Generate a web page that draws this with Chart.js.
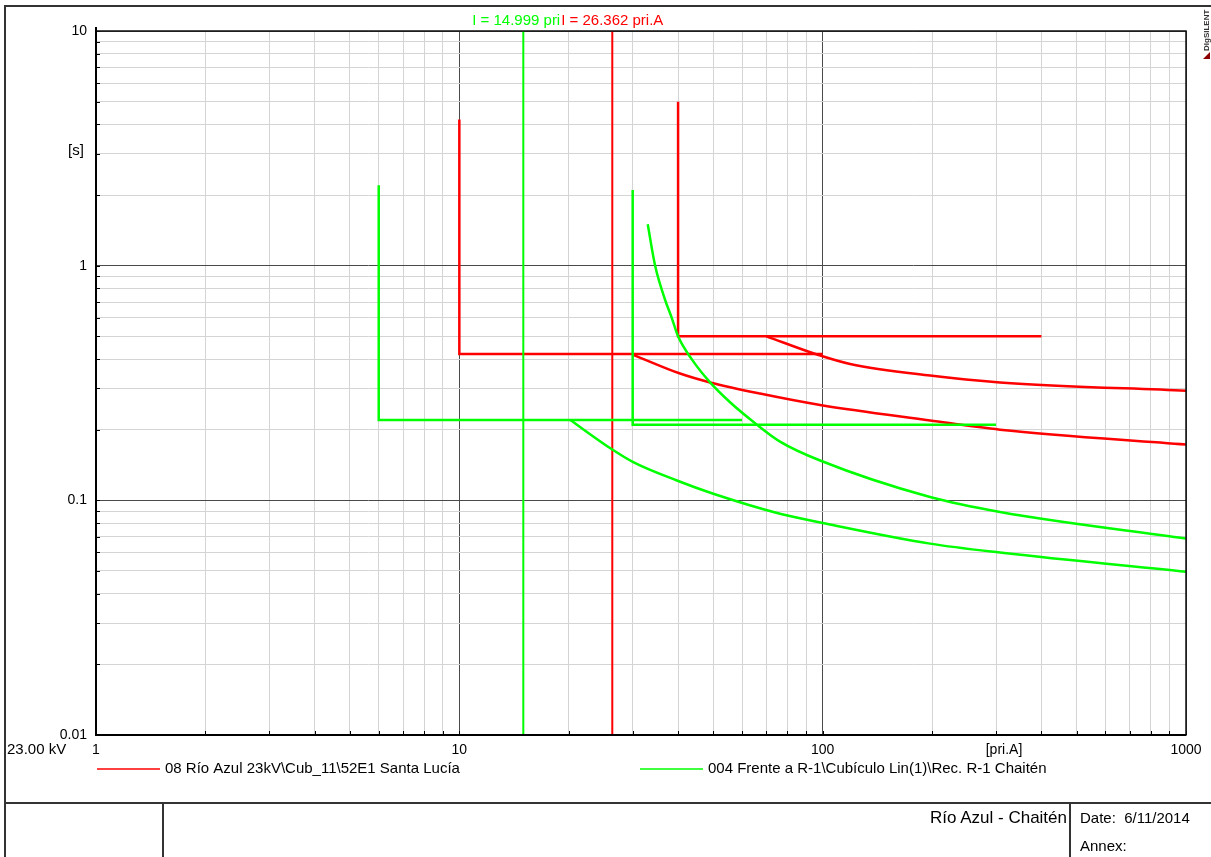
<!DOCTYPE html>
<html>
<head>
<meta charset="utf-8">
<script src="https://cdn.jsdelivr.net/npm/chart.js@4.4.1/dist/chart.umd.min.js"></script>
<style>
    body { margin: 0; background: #fff; }
    #wrap { position: relative; width: 1211px; height: 857px; overflow: hidden; font-family: "Liberation Sans", Arial, sans-serif; }
    #myChart { position: absolute; left: 0; top: 0; }
    .ln { position: absolute; background: #333; }
    .txt { position: absolute; font-size: 15px; color: #000; white-space: nowrap; line-height: 18px; }
</style>
</head>
<body>
<div id="wrap">
    <canvas id="myChart" width="1211" height="857"></canvas>
    <div class="ln" style="left:4px; top:5px; width:1207px; height:2px;"></div>
    <div class="ln" style="left:4px; top:5px; width:2px; height:852px;"></div>
    <div class="ln" style="left:4px; top:802px; width:1207px; height:2px;"></div>
    <div class="ln" style="left:162px; top:802px; width:2px; height:55px;"></div>
    <div class="ln" style="left:1069px; top:802px; width:2px; height:55px;"></div>
    <div class="txt" style="right:144px; top:808px; font-size:17px; line-height:20px;">Río Azul - Chaitén</div>
    <div class="txt" style="left:1080px; top:809px;">Date:&nbsp; 6/11/2014</div>
    <div class="txt" style="left:1080px; top:837px;">Annex:</div>
</div>
<script>
// axis decades
var xTicks = [1, 10, 100, 1000];
var yTicks = [0.01, 0.1, 1, 10];

// 08 Río Azul 23kV\Cub_11\52E1 Santa Lucía (red)
var redMarkerI = 26.362;
var redStepA = [[10, 4.2], [10, 0.42], [100, 0.42]];
var redCurveA = [[30, 0.418], [40.5, 0.347], [49, 0.318], [67.2, 0.285], [98.4, 0.2548], [197.5, 0.219], [307.7, 0.2], [1000, 0.173]];
var redStepB = [[40, 5.0], [40, 0.5], [400, 0.5]];
var redCurveB = [[70, 0.5], [96.5, 0.418], [119, 0.381], [197.5, 0.34], [307.7, 0.318], [1000, 0.293]];

// 004 Frente a R-1\Cubículo Lin(1)\Rec. R-1 Chaitén (green)
var greenMarkerI = 14.999;
var greenStepA = [[6, 2.2], [6, 0.22], [60, 0.22]];
var greenCurveA = [[20.2, 0.22], [26.3, 0.165], [30.1, 0.1455], [39.7, 0.1215], [50, 0.1067], [76.3, 0.0877], [100, 0.0801], [197.5, 0.0654], [307.7, 0.0599], [1000, 0.0496]];
var greenStepB = [[30, 2.1], [30, 0.21], [300, 0.21]];
var greenCurveB = [[33, 1.5], [34.6, 0.996], [36.8, 0.719], [38.4, 0.601], [40, 0.5], [43.6, 0.3996], [49, 0.318], [55.6, 0.2617], [65.9, 0.2102], [76.3, 0.178], [98.4, 0.1478], [197.5, 0.1033], [307.7, 0.0892], [1000, 0.0687]];

var legendLabels = ['08 Río Azul 23kV\\Cub_11\\52E1 Santa Lucía', '004 Frente a R-1\\Cubículo Lin(1)\\Rec. R-1 Chaitén'];

var RED = '#ff0000';
var GREEN = '#00ff00';
var FONT = '"Liberation Sans", Arial, sans-serif';

function pts(list) {
    return list.map(function (p) { return { x: p[0], y: p[1] }; });
}

function line(list, color, width, smooth) {
    return {
        data: pts(list),
        showLine: true,
        borderColor: color,
        backgroundColor: color,
        borderWidth: width,
        pointRadius: 0,
        cubicInterpolationMode: smooth ? 'monotone' : 'default',
        tension: 0
    };
}

function gridValues(decades) {
    var vals = [];
    for (var i = 0; i < decades.length - 1; i++) {
        for (var k = 1; k < 10; k++) {
            vals.push({ value: decades[i] * k });
        }
    }
    vals.push({ value: decades[decades.length - 1] });
    return vals;
}

function isMajor(v) {
    var l = Math.log10(v);
    return Math.abs(l - Math.round(l)) < 1e-6;
}

function gridColor(c) {
    return c.tick && isMajor(c.tick.value) ? '#4a4a4a' : '#d4d4d4';
}

var textPlugin = {
    id: 'textPlugin',
    afterDraw: function (chart) {
        var c = chart.ctx;
        var a = chart.chartArea;
        var xs = chart.scales.x;
        var ys = chart.scales.y;
        c.save();

        // small ticks inside the frame
        c.strokeStyle = '#000';
        c.lineWidth = 1;
        xs.ticks.forEach(function (t) {
            var px = Math.round(xs.getPixelForValue(t.value)) + 0.5;
            c.beginPath();
            c.moveTo(px, a.bottom);
            c.lineTo(px, a.bottom - 4);
            c.stroke();
        });
        ys.ticks.forEach(function (t) {
            var py = Math.round(ys.getPixelForValue(t.value)) + 0.5;
            c.beginPath();
            c.moveTo(a.left, py);
            c.lineTo(a.left + 4, py);
            c.stroke();
        });

        // frame
        c.lineWidth = 1.5;
        c.strokeStyle = '#111';
        c.strokeRect(a.left, a.top, a.right - a.left, a.bottom - a.top);
        c.lineWidth = 2;
        c.strokeStyle = '#000';
        c.beginPath();
        c.moveTo(a.left, a.top - 4);
        c.lineTo(a.left, a.bottom);
        c.lineTo(a.right, a.bottom);
        c.stroke();

        c.fillStyle = '#000';
        c.font = '14px ' + FONT;
        c.textBaseline = 'middle';

        c.textAlign = 'right';
        yTicks.forEach(function (v) {
            c.fillText(String(v), a.left - 9, ys.getPixelForValue(v));
        });
        c.textAlign = 'center';
        xTicks.forEach(function (v) {
            c.fillText(String(v), xs.getPixelForValue(v), a.bottom + 15);
        });
        c.fillText('[pri.A]', 1004, a.bottom + 15);
        c.font = '15px ' + FONT;
        c.fillText('[s]', 76, 151);
        c.textAlign = 'left';
        c.fillText('23.00 kV', 7, a.bottom + 15);

        // legend
        var lx = [97, 640];
        var lc = [RED, GREEN];
        for (var i = 0; i < 2; i++) {
            c.strokeStyle = lc[i];
            c.lineWidth = 1.5;
            c.beginPath();
            c.moveTo(lx[i], 769);
            c.lineTo(lx[i] + 63, 769);
            c.stroke();
            c.fillStyle = '#000';
            c.fillText(legendLabels[i], lx[i] + 68, 769);
        }

        // marker labels over the plot
        c.font = '15px ' + FONT;
        c.textAlign = 'center';
        var gTxt = 'I = ' + greenMarkerI.toFixed(3) + ' pri.A';
        var rTxt = 'I = ' + redMarkerI.toFixed(3) + ' pri.A';
        c.fillStyle = GREEN;
        c.fillText(gTxt, xs.getPixelForValue(greenMarkerI), 21);
        var rx = xs.getPixelForValue(redMarkerI);
        var rw = c.measureText(rTxt).width;
        c.fillStyle = '#fff';
        c.fillRect(rx - rw / 2, 12, rw, 17);
        c.fillStyle = RED;
        c.fillText(rTxt, rx, 21);

        // DIgSILENT mark
        c.translate(1207, 51);
        c.rotate(-Math.PI / 2);
        c.fillStyle = '#333';
        c.font = 'bold 8px ' + FONT;
        c.textAlign = 'left';
        c.fillText('DIgSILENT', 0, 0);
        c.restore();
        c.save();
        c.fillStyle = '#8b0000';
        c.beginPath();
        c.moveTo(1210, 52);
        c.lineTo(1210, 59);
        c.lineTo(1203, 59);
        c.closePath();
        c.fill();
        c.restore();
    }
};

var ctx = document.getElementById('myChart');

new Chart(ctx, {
    type: 'scatter',
    data: {
        datasets: [
            line(greenStepA, GREEN, 2.5, false),
            line(greenCurveA, GREEN, 2.5, true),
            line(greenStepB, GREEN, 2.5, false),
            line(greenCurveB, GREEN, 2.5, true),
            line([[greenMarkerI, 0.01], [greenMarkerI, 10]], GREEN, 2, false),
            line(redStepA, RED, 2.5, false),
            line(redCurveA, RED, 2.5, true),
            line(redStepB, RED, 2.5, false),
            line(redCurveB, RED, 2.5, true),
            line([[redMarkerI, 0.01], [redMarkerI, 10]], RED, 2, false)
        ]
    },
    options: {
        responsive: false,
        animation: false,
        layout: { padding: { left: 96, right: 25, top: 31, bottom: 122 } },
        plugins: { legend: { display: false }, tooltip: { enabled: false } },
        scales: {
            x: {
                type: 'logarithmic',
                min: 1,
                max: 1000,
                afterBuildTicks: function (s) { s.ticks = gridValues(xTicks); },
                ticks: { display: false, autoSkip: false },
                grid: { color: gridColor, drawTicks: false, lineWidth: 1 },
                border: { display: false }
            },
            y: {
                type: 'logarithmic',
                min: 0.01,
                max: 10,
                afterBuildTicks: function (s) { s.ticks = gridValues(yTicks); },
                ticks: { display: false, autoSkip: false },
                grid: { color: gridColor, drawTicks: false, lineWidth: 1 },
                border: { display: false }
            }
        }
    },
    plugins: [textPlugin]
});
</script>
</body>
</html>
